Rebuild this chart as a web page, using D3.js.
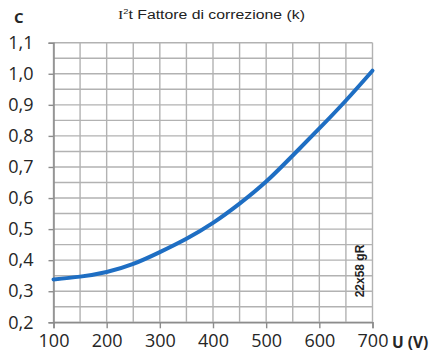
<!DOCTYPE html>
<html>
<head>
<meta charset="utf-8">
<script src="https://cdn.jsdelivr.net/npm/d3@7/dist/d3.min.js"></script>
<style>
  html, body { margin: 0; padding: 0; background: #fff; }
  svg { display: block; }
</style>
</head>
<body>
<svg id="chart" width="438" height="360"></svg>
<script>
// Correction factor vs. voltage for 22x58 gR fuse
const voltages = [100, 150, 200, 250, 300, 350, 400, 450, 500, 550, 600, 650, 700];
const factors  = [0.338, 0.347, 0.362, 0.388, 0.426, 0.469, 0.52, 0.582, 0.653, 0.737, 0.824, 0.914, 1.01];
const xTicks = [100, 200, 300, 400, 500, 600, 700];
const yTicks = [0.2, 0.3, 0.4, 0.5, 0.6, 0.7, 0.8, 0.9, 1.0, 1.1];
const xGrid = d3.range(100, 701, 50);
const yGrid = d3.range(0, 19).map(i => +(0.2 + i * 0.05).toFixed(2));

const svg = d3.select("#chart");
const plot = { left: 53.5, right: 372.5, top: 42.7, bottom: 322.3 };

const x = d3.scaleLinear().domain([100, 700]).range([plot.left, plot.right]);
const y = d3.scaleLinear().domain([0.2, 1.1]).range([plot.bottom, plot.top]);
const fmt = v => d3.format(".1f")(v).replace(".", ",");
const sans = "'Open Sans', 'Noto Sans', sans-serif";

// grid
const grid = svg.append("g").attr("stroke", "#b2b2b2").attr("stroke-width", 1.4);
grid.selectAll("line.v").data(xGrid).join("line").attr("class", "v")
  .attr("x1", d => x(d)).attr("x2", d => x(d))
  .attr("y1", plot.top).attr("y2", plot.bottom);
grid.selectAll("line.h").data(yGrid).join("line").attr("class", "h")
  .attr("x1", plot.left).attr("x2", plot.right)
  .attr("y1", d => y(d)).attr("y2", d => y(d));

// axes
const xAxis = svg.append("g")
  .attr("transform", `translate(0,${plot.bottom})`)
  .call(d3.axisBottom(x).tickValues(xTicks).tickSize(6).tickPadding(6).tickFormat(d3.format("d")));
const yAxis = svg.append("g")
  .attr("transform", `translate(${plot.left},0)`)
  .call(d3.axisLeft(y).tickValues(yTicks).tickSize(5).tickPadding(15).tickFormat(fmt));

[xAxis, yAxis].forEach(a => {
  a.select(".domain").attr("stroke", "#8c8c8c").attr("stroke-width", 1.5);
  a.selectAll(".tick line").attr("stroke", "#8c8c8c").attr("stroke-width", 1.4);
  a.selectAll(".tick text")
    .attr("fill", "#262626")
    .attr("font-family", sans)
    .attr("font-size", 18);
});

// curve
const line = d3.line()
  .x((d, i) => x(voltages[i]))
  .y(d => y(d))
  .curve(d3.curveNatural);
svg.append("path")
  .datum(factors)
  .attr("d", line)
  .attr("fill", "none")
  .attr("stroke", "#1e6ec3")
  .attr("stroke-width", 4)
  .attr("stroke-linecap", "round");

// labels
svg.append("text")
  .attr("x", 14).attr("y", 23)
  .attr("font-family", sans)
  .attr("font-weight", "bold").attr("font-size", 15)
  .attr("fill", "#262626").text("C");

// stretch a text horizontally to a given width
function fitWidth(sel, x0, width) {
  const w = sel.node().getBBox().width;
  sel.attr("transform", `translate(${x0},0) scale(${width / w},1)`);
}

const title = svg.append("text")
  .attr("x", 0).attr("y", 19)
  .attr("font-family", "'Liberation Sans', Arial, sans-serif")
  .attr("font-size", 13.5).attr("fill", "#222");
title.append("tspan").attr("font-family", "'Liberation Serif', serif").text("I");
title.append("tspan").attr("font-size", 8).attr("dy", -5).text("2");
title.append("tspan").attr("dy", 5).text("t Fattore di correzione (k)");
fitWidth(title, 118, 187);

svg.append("text")
  .attr("x", 392).attr("y", 348)
  .attr("font-family", sans)
  .attr("font-weight", "bold").attr("font-size", 15.5)
  .attr("fill", "#262626").text("U (V)");

svg.append("text")
  .attr("transform", `translate(${363.5},${271}) rotate(-90)`)
  .attr("text-anchor", "middle")
  .attr("font-family", "'Liberation Sans', Arial, sans-serif")
  .attr("font-weight", "bold").attr("font-size", 12)
  .attr("fill", "#222").text("22x58 gR");
</script>
</body>
</html>
